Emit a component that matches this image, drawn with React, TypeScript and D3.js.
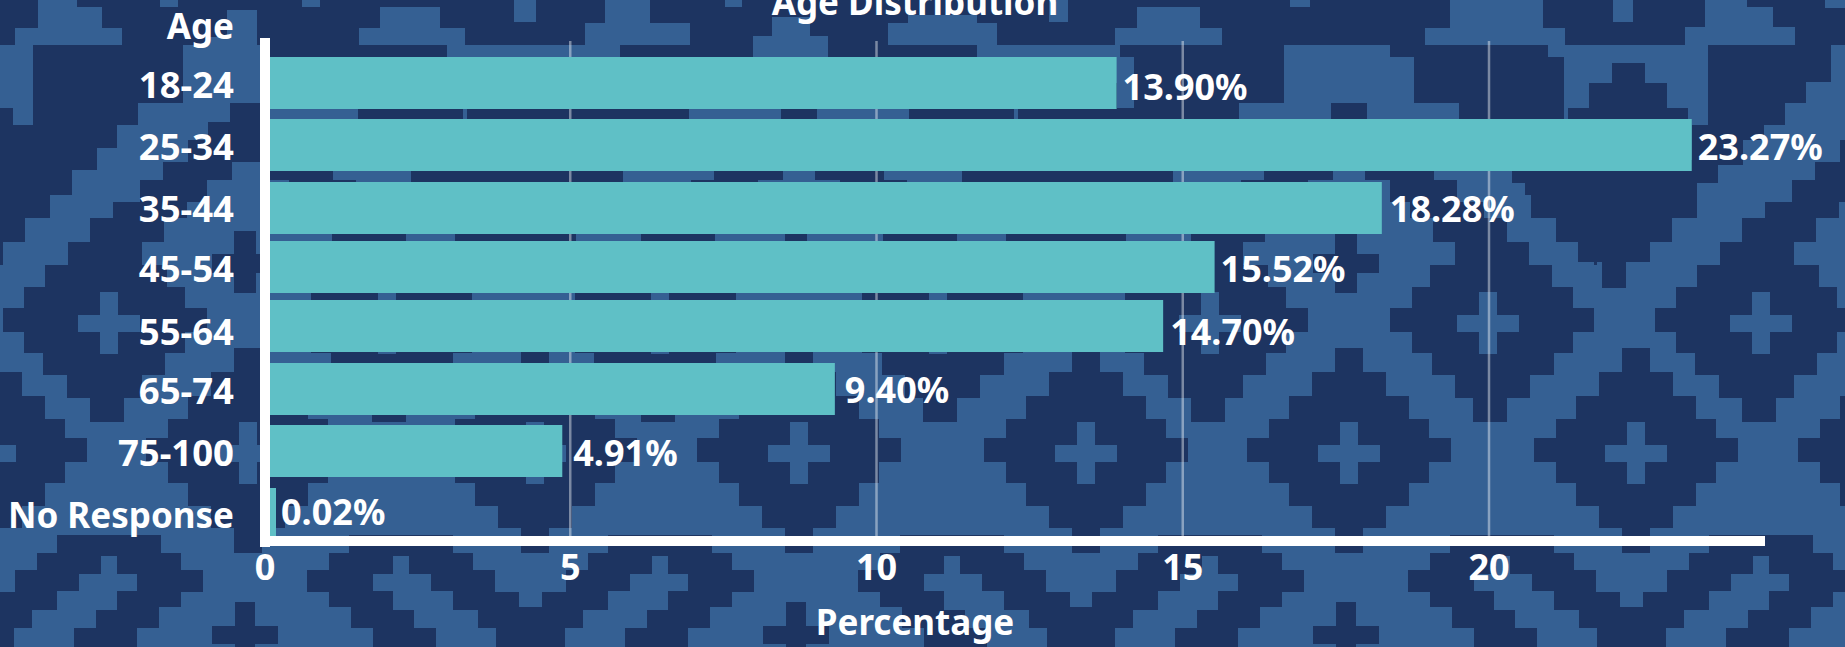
import React from "react";
import * as d3 from "d3";

// ---- chart data ----
const categories = ["18-24", "25-34", "35-44", "45-54", "55-64", "65-74", "75-100", "No Response"];
const barValues = [13.92, 23.31, 18.25, 15.52, 14.68, 9.32, 4.87, 0.02];
const valueLabels = ["13.90%", "23.27%", "18.28%", "15.52%", "14.70%", "9.40%", "4.91%", "0.02%"];
const xTicks = [0, 5, 10, 15, 20];
const title = "Age Distribution";
const xTitle = "Percentage";
const yTitle = "Age";

// ---- layout ----
const W = 1845, H = 647;
const DARK = "#1d3461", LIGHT = "#356093", BAR = "#5fc0c6";
const FONT = "'Noto Sans', sans-serif";
const rowTops = [57, 119, 182, 241, 300, 363, 425, 488];
const rowBaselines = [98, 160, 222, 282, 345, 404, 466, 528];
const labelBaselines = [100, 160, 222, 282, 345, 403, 466, 525];
const labelGaps = [6, 6, 8, 6, 7, 10, 11, 5];
const BAR_H = 52;

// ---- background motif, [y0, y1, x0, x1] pieces ----
type R = [number, number, number, number];
const PERIOD = 550.5;
const diamondRows = [[-105, -81, 14], [-81, -57, 37], [-57, -34, 60], [-34, -15, 80], [-15, 9, 102], [9, 30, 80], [30, 53, 60], [53, 75, 37], [75, 100, 14]];
const topStrip: R[] = [[0, 45, 0, 1845], [45, 57, 33, 183], [45, 57, 262, 447], [45, 57, 620, 753], [45, 57, 828, 977], [45, 57, 1120, 1284], [45, 57, 1390, 1548], [45, 57, 1708, 1831]];
const topLights: R[] = [[0, 7, 38, 77], [7, 28, 38, 102], [28, 45, 15, 122], [0, 7, 160, 178], [0, 7, 302, 320], [7, 28, 380, 440], [28, 45, 359, 465], [0, 22, 514, 536], [0, 23, 605, 650], [23, 45, 585, 690], [0, 7, 725, 742], [17, 36, 772, 810], [36, 57, 753, 828], [15, 23, 908, 977], [23, 45, 888, 997], [0, 22, 1049, 1068], [7, 28, 1137, 1200], [28, 45, 1115, 1222], [0, 7, 1290, 1310], [0, 28, 1450, 1543], [28, 45, 1425, 1565], [0, 22, 1613, 1633], [0, 7, 1705, 1747], [7, 27, 1705, 1773], [27, 45, 1685, 1795], [0, 8, 1825, 1845], [10, 37, 227, 257], [37, 45, 207, 257]];
const bandRows: R[] = [[103, 122, 230, 262], [122, 140, 208, 262], [140, 162, 188, 262], [162, 180, 163, 232], [180, 202, 140, 207], [202, 218, 113, 187], [218, 242, 90, 164], [242, 265, 68, 142], [265, 287, 45, 167], [287, 308, 24, 185], [308, 332, 3, 207], [332, 353, 24, 185], [353, 375, 43, 165], [375, 398, 67, 142], [398, 422, 90, 124]];
const upperRows: R[] = [[57, 103, 33, 183], [103, 125, 33, 138], [108, 128, 0, 13], [125, 148, 0, 117], [148, 170, 0, 97], [170, 195, 0, 72], [195, 218, 0, 50], [218, 242, 0, 25], [242, 265, 0, 3]];
const upperRight: R[] = [[57, 82, 1708, 1831], [82, 103, 1708, 1806], [103, 125, 1708, 1785], [125, 140, 1692, 1764], [140, 165, 1692, 1743], [165, 183, 1692, 1718]];
const upperDiamond: R[] = [[63, 83, 1612, 1645], [83, 108, 1589, 1667], [108, 160, 1568, 1688], [160, 183, 1512, 1716], [183, 218, 1531, 1697], [218, 242, 1556, 1672], [242, 262, 1578, 1650], [262, 288, 1602, 1626]];
const legDark = [[535, 553, -52, 52], [553, 570, -72, 72], [570, 592, -94, 94], [592, 607, -118, 72], [607, 628, -145, 50], [628, 647, -145, 28]];
const legLight = [[556, 574, -8, 8], [574, 591, -30, 28], [591, 610, -52, 8], [610, 628, -77, -13], [628, 647, -95, -35]];

function buildBackground() {
  const dark: R[] = [];
  const light: R[] = [];
  const shift = (r: R, dx: number): R => [r[0], r[1], r[2] + dx, r[3] + dx];
  const mirror = (r: R, c: number): R => [r[0], r[1], 2 * c - r[3], 2 * c - r[2]];
  const cross = (cx: number, cy: number, list: R[]) => {
    list.push([cy - 31, cy + 31, cx - 9, cx + 9]);
    list.push([cy - 8, cy + 9, cx - 31, cx + 31]);
  };
  for (let k = 0; k <= 3; k++) {
    const dx = PERIOD * k;
    const c = 248 + dx;
    bandRows.forEach((r) => { dark.push(shift(r, dx)); dark.push(mirror(shift(r, dx), c)); });
    if (k < 3) {
      upperRows.forEach((r) => { dark.push(shift(r, dx)); dark.push(mirror(shift(r, dx), c)); });
    }
    cross(109 + dx, 323, light);
    cross(387 + dx, 323, light);
  }
  upperRight.forEach((r) => dark.push(r));
  [-2, -1, 0].forEach((k) => upperDiamond.forEach((r) => dark.push(shift(r, PERIOD * k))));
  for (let k = -1; k <= 3; k++) {
    const dx = PERIOD * k;
    [248 + dx, 535 + dx].forEach((cx) => {
      diamondRows.forEach(([a, b, h]) => dark.push([453 + a, 453 + b, cx - h, cx + h]));
      cross(cx, 453, light);
    });
    const c = 245 + dx;
    dark.push([231, 293, c - 11, c + 11], [254, 273, c - 33, c + 33]);
    dark.push([602, 647, c - 10, c + 10], [626, 644, c - 33, c + 33]);
    const la = 109 + dx, ra = 401 + dx;
    legDark.forEach(([a, b, l, r]) => {
      dark.push([a, b, la + l, la + r]);
      dark.push([a, b, ra - r, ra - l]);
    });
    legLight.forEach(([a, b, l, r]) => {
      light.push([a, b, la + l, la + r]);
      light.push([a, b, ra - r, ra - l]);
    });
  }
  return { dark, light };
}

const Pieces = ({ list, fill }: { list: R[]; fill: string }) => (
  <g fill={fill} shapeRendering="crispEdges">
    {list.map((r, i) => (
      <rect key={i} x={r[2]} y={r[0]} width={r[3] - r[2]} height={r[1] - r[0]} />
    ))}
  </g>
);

export default function App() {
  const x = d3.scaleLinear().domain([0, 20]).range([264, 1489]);
  const y = d3.scaleOrdinal<string, number>().domain(categories).range(rowTops);
  const bg = buildBackground();
  const text = { fill: "#fff", fontFamily: FONT, fontWeight: 700 } as const;
  return (
    <svg width={W} height={H} viewBox={`0 0 ${W} ${H}`} style={{ position: "absolute", left: 0, top: 0, display: "block" }}>
      <rect width={W} height={H} fill={LIGHT} />
      <Pieces list={topStrip} fill={DARK} />
      <Pieces list={topLights} fill={LIGHT} />
      <Pieces list={bg.dark} fill={DARK} />
      <Pieces list={bg.light} fill={LIGHT} />

      {xTicks.slice(1).map((t) => (
        <line key={t} x1={x(t)} x2={x(t)} y1={41} y2={536} stroke="#fff" strokeOpacity={0.42} strokeWidth={2.5} />
      ))}
      {categories.map((c, i) => {
        const end = Math.max(x(barValues[i]), 276);
        return (
          <g key={c}>
            <rect x={x(0)} y={y(c)} width={end - x(0)} height={BAR_H} fill={BAR} />
            <text x={end + labelGaps[i]} y={labelBaselines[i]} fontSize={36} {...text}>{valueLabels[i]}</text>
            <text x={234} y={rowBaselines[i]} textAnchor="end" fontSize={c === "No Response" ? 35 : 36.5} {...text}>{c}</text>
          </g>
        );
      })}
      <rect x={260} y={38} width={10} height={509} fill="#fff" />
      <rect x={260} y={536} width={1505} height={10} fill="#fff" />
      {xTicks.map((t) => (
        <text key={t} x={x(t) + (t === 0 ? 1 : 0)} y={580} textAnchor="middle" fontSize={36} {...text}>{t}</text>
      ))}
      <text x={234} y={39} textAnchor="end" fontSize={35} {...text}>{yTitle}</text>
      <text x={915} y={635} textAnchor="middle" fontSize={35} {...text}>{xTitle}</text>
      <text x={915} y={15} textAnchor="middle" fontSize={35} {...text}>{title}</text>
    </svg>
  );
}
